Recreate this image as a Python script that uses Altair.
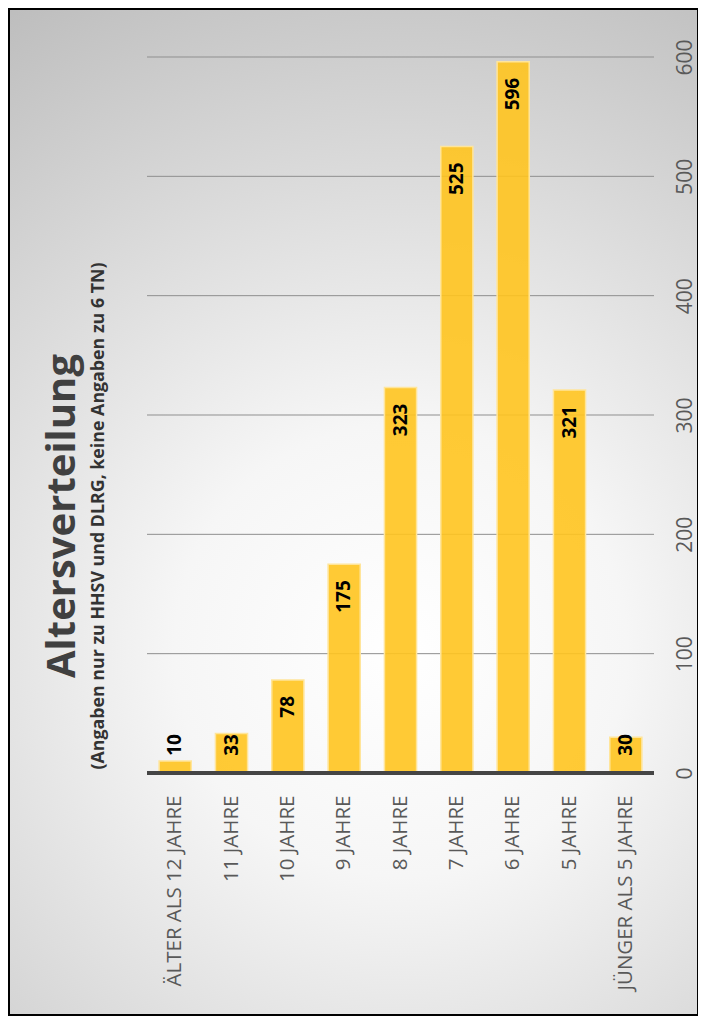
import altair as alt
import pandas as pd

# ---- data ----
categories = ["ÄLTER ALS 12 JAHRE", "11 JAHRE", "10 JAHRE", "9 JAHRE", "8 JAHRE",
              "7 JAHRE", "6 JAHRE", "5 JAHRE", "JÜNGER ALS 5 JAHRE"]
counts = [10, 33, 78, 175, 323, 525, 596, 321, 30]
y_ticks = [0, 100, 200, 300, 400, 500, 600]
grid_values = [100, 200, 300, 400, 500, 600]
title_text = "Altersverteilung"
subtitle_text = "(Angaben nur zu HHSV und DLRG, keine Angaben zu 6 TN)"

FONT = "Open Sans"
W, H = 507, 716

df = pd.DataFrame({"cat": categories, "value": counts})
grid_df = pd.DataFrame({"v": grid_values})

yscale = alt.Scale(domain=[0, 600], nice=False, zero=True)
xscale = alt.Scale(paddingInner=0.43, paddingOuter=0.215)

y_axis = alt.Axis(orient="right", values=y_ticks, labelAngle=270,
                  labelAlign="center", labelBaseline="top",
                  labelFont=FONT, labelFontSize=21, labelColor="#595959",
                  labelPadding=20, ticks=False, domain=False, grid=False,
                  zindex=1, title=None)

gradient = {
    "gradient": "radial",
    "x1": 0.547, "y1": 0.637, "r1": 0,
    "x2": 0.547, "y2": 0.637, "r2": 0.75,
    "stops": [
        {"offset": 0, "color": "#ffffff"},
        {"offset": 0.3, "color": "#f6f6f6"},
        {"offset": 1, "color": "#bdbdbd"},
    ],
}

bg = alt.Chart(alt.Data(values=[{}])).mark_rect(
    fill=gradient, stroke="black", strokeWidth=2
).encode(
    x=alt.value(-138), x2=alt.value(551), y=alt.value(-48), y2=alt.value(958)
)

grid = alt.Chart(grid_df).mark_rule(color="#8f8f8f", strokeWidth=1).encode(
    y=alt.Y("v:Q", scale=yscale, axis=y_axis, title=None),
    x=alt.value(0), x2=alt.value("width"),
)

bars = alt.Chart(df).mark_bar(
    fill="#FFC41F", fillOpacity=0.9, stroke="#FFE59A", strokeWidth=1.5
).encode(
    x=alt.X("cat:N", sort=categories, scale=xscale, title=None,
            axis=alt.Axis(labelAngle=270, labelFont=FONT, labelFontSize=20.5,
                          labelColor="#595959", labelPadding=22, labelLimit=400,
                          ticks=False, domain=False, grid=False, zindex=1)),
    y=alt.Y("value:Q", scale=yscale, axis=y_axis, title=None),
)

baseline = alt.Chart(alt.Data(values=[{"z": 0}])).mark_rule(
    color="#454545", strokeWidth=4
).encode(
    y=alt.Y("z:Q", scale=yscale, axis=y_axis, title=None),
    x=alt.value(0), x2=alt.value("width"),
)

labels = alt.Chart(df).transform_calculate(
    pos="max(datum.value, 46)"
).mark_text(
    angle=270, align="right", baseline="middle", dx=-16,
    font=FONT, fontSize=19, fontWeight="bold", color="#000000"
).encode(
    x=alt.X("cat:N", sort=categories, scale=xscale),
    y=alt.Y("pos:Q", scale=yscale, axis=y_axis, title=None),
    text=alt.Text("value:Q"),
)

title = alt.Chart(alt.Data(values=[{"t": title_text}])).mark_text(
    angle=270, align="center", baseline="middle",
    font=FONT, fontSize=40, fontWeight="bold", color="#404040"
).encode(text="t:N", x=alt.value(-84), y=alt.value(459))

subtitle = alt.Chart(alt.Data(values=[{"t": subtitle_text}])).mark_text(
    angle=270, align="center", baseline="middle",
    font=FONT, fontSize=17.8, fontWeight="bold", color="#333333"
).encode(text="t:N", x=alt.value(-48), y=alt.value(459))

chart = alt.layer(bg, grid, bars, baseline, labels, title, subtitle).properties(
    width=W, height=H,
    padding={"left": 139, "top": 49, "right": 44, "bottom": 247},
    autosize=alt.AutoSizeParams(type="none"),
).configure_view(stroke=None).configure(background="white")

chart.save("out.html", embed_options={"renderer": "svg", "actions": False})
